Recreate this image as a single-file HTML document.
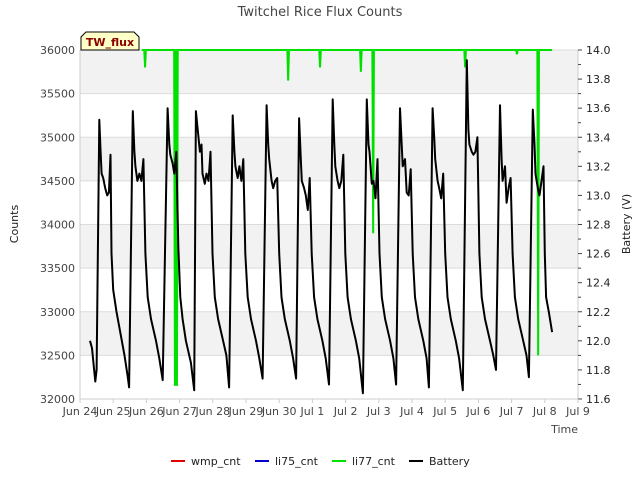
<!DOCTYPE html>
<html><head><meta charset="utf-8"><style>
body{margin:0;background:#fff;font-family:"Liberation Sans","DejaVu Sans",sans-serif}
text{font-family:"DejaVu Sans","Liberation Sans",sans-serif}
</style></head><body>
<svg id="chart" width="640" height="480" xmlns="http://www.w3.org/2000/svg">
<rect width="640" height="480" fill="#fff"/>
<g id="bands"></g><g id="grid"></g><g id="axes"></g><g id="series"></g>
<text x="320" y="16" text-anchor="middle" font-size="13" fill="#444">Twitchel Rice Flux Counts</text>
<text x="18" y="224" text-anchor="middle" font-size="11" fill="#222" transform="rotate(-90 18 224)">Counts</text>
<text x="630" y="224" text-anchor="middle" font-size="11" fill="#222" transform="rotate(-90 630 224)">Battery (V)</text>
<text x="578" y="433" text-anchor="end" font-size="11" fill="#444">Time</text>
<g>
<path d="M81,50 L81,37 L86,32 L134,32 L139,37 L139,50 Z" fill="#ffffc8" stroke="#000" stroke-width="1"/>
<text x="110" y="46" text-anchor="middle" font-size="11" font-weight="bold" fill="#8b0000">TW_flux</text>
</g>
<g font-size="11" fill="#222">
<g><line x1="171" y1="461" x2="185" y2="461" stroke="#e00000" stroke-width="2"/><text x="191" y="465">wmp_cnt</text></g>
<g><line x1="255" y1="461" x2="269" y2="461" stroke="#0000cc" stroke-width="2"/><text x="275" y="465">li75_cnt</text></g>
<g><line x1="332" y1="461" x2="346" y2="461" stroke="#00e000" stroke-width="2"/><text x="352" y="465">li77_cnt</text></g>
<g><line x1="409" y1="461" x2="423" y2="461" stroke="#000" stroke-width="2"/><text x="429" y="465">Battery</text></g>
</g>
</svg>
<script>
const xTickLabels=["Jun 24","Jun 25","Jun 26","Jun 27","Jun 28","Jun 29","Jun 30","Jul 1","Jul 2","Jul 3","Jul 4","Jul 5","Jul 6","Jul 7","Jul 8","Jul 9"];
const countTicks=[32000,32500,33000,33500,34000,34500,35000,35500,36000];
const voltTicks=[11.6,11.8,12.0,12.2,12.4,12.6,12.8,13.0,13.2,13.4,13.6,13.8,14.0];
const batteryDays=[0.30,0.36,0.46,0.50,0.58,0.62,0.65,0.70,0.76,0.82,0.87,0.92,0.95,1.00,1.10,1.22,1.34,1.44,1.48,
1.59,1.64,1.67,1.73,1.79,1.85,1.91,1.97,2.04,2.14,2.29,2.39,2.49,
2.64,2.69,2.72,2.79,2.84,2.90,2.96,3.02,3.09,3.19,3.34,3.44,3.49,
3.61,3.66,3.69,3.76,3.81,3.87,3.93,3.99,4.06,4.16,4.31,4.41,4.49,
4.60,4.65,4.68,4.75,4.80,4.86,4.92,4.98,5.05,5.15,5.30,5.40,5.50,
5.62,5.67,5.70,5.77,5.82,5.88,5.94,6.00,6.07,6.17,6.32,6.42,6.51,
6.60,6.65,6.68,6.75,6.80,6.86,6.92,6.98,7.05,7.15,7.30,7.40,7.50,
7.61,7.66,7.69,7.76,7.81,7.87,7.93,7.99,8.06,8.16,8.31,8.41,8.52,
8.64,8.69,8.72,8.79,8.84,8.90,8.96,9.02,9.09,9.19,9.34,9.44,9.52,
9.64,9.69,9.72,9.79,9.84,9.90,9.96,10.02,10.09,10.19,10.34,10.44,10.51,
10.62,10.67,10.70,10.77,10.82,10.88,10.94,11.00,11.07,11.17,11.32,11.42,11.53,
11.65,11.70,11.73,11.80,11.85,11.91,11.97,12.03,12.10,12.20,12.35,12.45,12.53,
12.65,12.70,12.73,12.80,12.85,12.91,12.97,13.03,13.10,13.20,13.35,13.45,13.52,
13.64,13.69,13.72,13.79,13.84,13.90,13.96,14.00,14.04,14.12,14.22];
const batteryVolts=[12.0,11.95,11.72,11.8,13.52,13.3,13.15,13.12,13.05,13.0,13.02,13.28,12.6,12.35,12.2,12.05,11.9,11.75,11.68,
13.58,13.3,13.2,13.1,13.15,13.1,13.25,12.6,12.3,12.15,12.0,11.88,11.73,
13.6,13.35,13.28,13.22,13.15,13.3,12.65,12.3,12.15,12.0,11.85,11.66,
13.58,13.3,13.35,13.15,13.08,13.15,13.1,13.3,12.6,12.3,12.15,12.0,11.9,11.68,
13.55,13.3,13.2,13.12,13.2,13.1,13.25,12.6,12.3,12.15,12.0,11.88,11.74,
13.62,13.35,13.25,13.1,13.05,13.1,13.12,12.6,12.3,12.15,12.0,11.88,11.74,
13.53,13.25,13.1,13.05,13.0,12.9,13.12,12.6,12.3,12.15,12.0,11.88,11.7,
13.66,13.35,13.2,13.1,13.05,13.1,13.28,12.6,12.3,12.15,12.0,11.88,11.64,
13.66,13.35,13.3,13.08,13.1,12.98,13.25,12.6,12.3,12.15,12.0,11.88,11.7,
13.6,13.35,13.2,13.25,13.02,13.0,13.18,12.6,12.3,12.15,12.0,11.88,11.68,
13.6,13.4,13.25,13.1,13.05,12.98,13.15,12.6,12.3,12.15,12.0,11.88,11.66,
13.93,13.45,13.35,13.3,13.28,13.3,13.4,12.6,12.3,12.15,12.0,11.9,11.8,
13.62,13.25,13.1,13.2,12.95,13.05,13.12,12.6,12.3,12.15,12.0,11.9,11.75,
13.59,13.35,13.15,13.05,13.0,13.1,13.2,12.6,12.3,12.2,12.06];
const li77Days=[1.96,2.86,2.92,6.27,7.23,8.46,8.83,11.60,13.16,13.80];
const li77Counts=[35800,32150,32150,35650,35800,35750,33900,35800,35950,32500];
const li77Start=1.86, li77End=14.22;

const NS="http://www.w3.org/2000/svg";
const L=80,R=578,T=50,B=399;
const xs=d=>L+d*(R-L)/15;
const yc=c=>B-(c-32000)*(B-T)/4000;
const yv=v=>B-(v-11.6)*(B-T)/2.4;
function mk(tag,attrs,parent){const e=document.createElementNS(NS,tag);for(const k in attrs)e.setAttribute(k,attrs[k]);parent.appendChild(e);return e;}
const bands=document.getElementById('bands'),grid=document.getElementById('grid'),axes=document.getElementById('axes'),series=document.getElementById('series');
for(let i=0;i<countTicks.length-1;i++){
  if(i%2===1){const r=mk('rect',{x:L,y:yc(countTicks[i+1]),width:R-L,height:yc(countTicks[i])-yc(countTicks[i+1]),fill:'#f2f2f2'},bands);
  
  }
}
countTicks.forEach(c=>{
  const g=mk('line',{x1:L,x2:R,y1:yc(c),y2:yc(c),stroke:'#dcdcdc','stroke-width':1},grid);
  
  
  const t=mk('text',{x:L-5,y:yc(c)+4,'text-anchor':'end','font-size':11,fill:'#444'},axes);
  t.textContent=c;
  
  
});
mk('line',{x1:L,x2:R,y1:B,y2:B,stroke:'#ccc'},axes);
mk('line',{x1:L,x2:L,y1:T,y2:B,stroke:'#ccc'},axes);
mk('line',{x1:R,x2:R,y1:T,y2:B,stroke:'#ccc'},axes);
voltTicks.forEach((v,i)=>{
  mk('line',{x1:R,x2:R+4,y1:yv(v),y2:yv(v),stroke:'#444'},axes);
  if(i<voltTicks.length-1)mk('line',{x1:R,x2:R+3,y1:yv(v+0.1),y2:yv(v+0.1),stroke:'#444'},axes);
  const t=mk('text',{x:R+8,y:yv(v)+4,'font-size':11,fill:'#222'},axes);
  t.textContent=v.toFixed(1);
  
  
});
xTickLabels.forEach((s,i)=>{
  mk('line',{x1:xs(i),x2:xs(i),y1:B,y2:B+4,stroke:'#ccc'},axes);
  const t=mk('text',{x:xs(i),y:B+16,'text-anchor':'middle','font-size':11,fill:'#444'},axes);
  t.textContent=s;
  
  
});
let d=`M${xs(li77Start)},${yc(36000)}`;
li77Days.forEach((t,i)=>{d+=` L${xs(t)-0.8},${yc(36000)} L${xs(t)},${yc(li77Counts[i])} L${xs(t)+0.8},${yc(36000)}`;});
d+=` L${xs(li77End)},${yc(36000)}`;
const g=mk('path',{d:d,fill:'none',stroke:'#00e000','stroke-width':2},series);


const bp=batteryDays.map((t,i)=>(i?'L':'M')+xs(t).toFixed(1)+','+yv(batteryVolts[i]).toFixed(1)).join(' ');
const b=mk('path',{d:bp,fill:'none',stroke:'#000','stroke-width':2,'stroke-linejoin':'round'},series);


</script>
</body></html>
